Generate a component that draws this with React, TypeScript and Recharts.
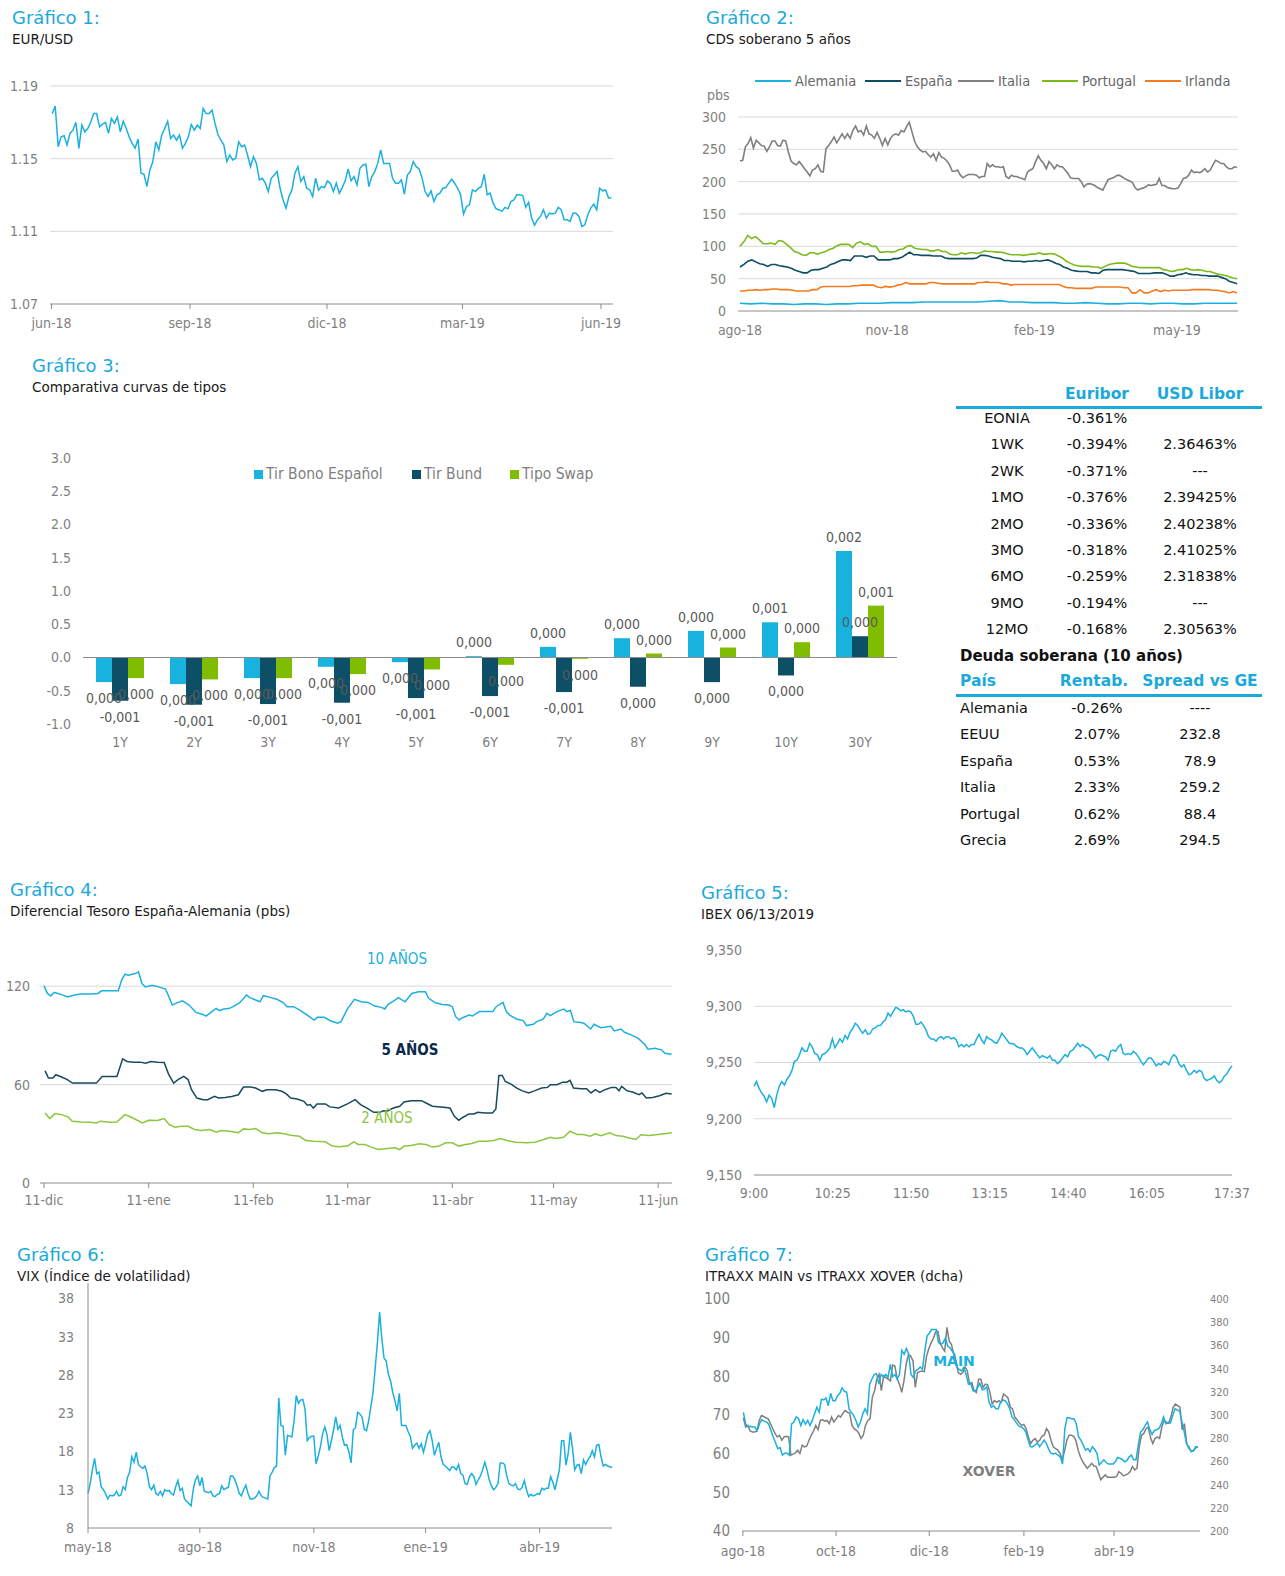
import React from "react";
import { LineChart, Line, BarChart, Bar, XAxis, YAxis, ReferenceLine, LabelList } from "recharts";

// ---------- data ----------
const eurUsd = [1.1748,1.179,1.1566,1.162,1.1626,1.1575,1.164,1.1657,1.17,1.1557,1.1685,1.1648,1.1666,1.17,1.1748,1.1748,1.1675,1.169,1.17,1.1639,1.1721,1.1694,1.173,1.1648,1.1706,1.1666,1.162,1.1584,1.1557,1.1608,1.142,1.1414,1.1347,1.1438,1.1484,1.1593,1.1548,1.163,1.1666,1.1706,1.1611,1.163,1.1602,1.163,1.1557,1.1584,1.162,1.1688,1.1657,1.1685,1.1666,1.1776,1.1748,1.1748,1.1767,1.1694,1.1633,1.1602,1.1575,1.1484,1.152,1.1493,1.1502,1.1593,1.1566,1.1575,1.152,1.1456,1.1511,1.1474,1.1383,1.1392,1.1365,1.1319,1.1392,1.141,1.1429,1.1337,1.1273,1.1228,1.1292,1.1328,1.142,1.1456,1.1374,1.1401,1.1337,1.1328,1.1292,1.1392,1.1328,1.1346,1.1341,1.1378,1.1365,1.1319,1.1365,1.131,1.1341,1.1378,1.1443,1.1378,1.1401,1.1356,1.1447,1.1465,1.1469,1.1346,1.1401,1.1429,1.1474,1.1548,1.1474,1.1474,1.1474,1.1392,1.1365,1.1365,1.1383,1.1305,1.141,1.1429,1.1484,1.1456,1.1443,1.1392,1.1319,1.1292,1.1323,1.1264,1.1301,1.131,1.1337,1.1341,1.1365,1.1387,1.1365,1.1337,1.1301,1.1195,1.1237,1.1246,1.1328,1.1319,1.1337,1.1346,1.1414,1.1301,1.131,1.1255,1.1224,1.1219,1.121,1.1232,1.1224,1.1264,1.1273,1.1301,1.1301,1.1297,1.1232,1.126,1.1173,1.1133,1.1164,1.1182,1.1219,1.1173,1.12,1.1195,1.12,1.1232,1.1219,1.1164,1.1164,1.1155,1.12,1.12,1.1182,1.1127,1.1136,1.1191,1.1228,1.125,1.1219,1.1337,1.1323,1.1328,1.1283,1.1283];
const eurTicks = [0, 92, 183, 273, 365];
const eurTickLabels = ["jun-18", "sep-18", "dic-18", "mar-19", "jun-19"];

const cdsItalia = [232,233,254,259,268,252,264,260,256,255,247,254,263,263,256,255,264,263,246,232,228,226,231,226,220,215,209,218,220,226,216,215,251,256,262,269,260,267,274,267,274,267,279,286,277,279,272,286,274,272,267,276,267,256,267,257,267,272,274,272,279,277,285,292,277,262,254,249,246,247,242,238,243,233,245,238,236,232,226,216,216,218,210,206,209,211,211,211,210,206,208,208,228,223,226,223,223,222,223,208,205,210,208,208,206,205,203,215,218,220,231,240,233,228,220,231,226,220,226,223,223,218,213,206,205,205,205,200,192,196,197,196,194,191,189,187,195,203,205,206,209,210,208,205,203,201,199,191,187,189,190,192,195,194,195,196,205,194,194,191,190,189,189,190,197,205,206,210,218,214,215,214,216,220,215,218,226,233,231,228,228,223,220,220,223,222];
const cdsPortugal = [100,107,117,112,115,110,104,104,105,103,109,108,103,98,92,90,87,86,90,90,88,90,92,95,97,101,103,103,103,98,105,107,103,104,100,100,91,91,92,91,92,95,96,100,101,97,96,95,95,93,93,95,92,92,88,87,87,90,88,90,90,89,90,93,92,92,91,91,90,88,87,87,87,86,87,88,88,90,88,88,89,88,85,82,77,74,71,70,69,69,69,68,68,66,69,72,73,74,74,74,72,69,68,67,67,67,67,67,67,64,63,61,62,64,64,66,64,63,64,63,61,61,59,57,56,55,53,51,50];
const cdsEspana = [68,72,77,79,76,73,72,69,72,72,70,69,68,66,63,61,59,59,63,64,64,66,68,72,74,77,79,79,78,85,85,85,83,85,85,79,79,79,79,81,81,83,87,91,87,87,86,86,86,85,85,85,82,81,81,81,81,81,81,81,82,86,86,85,83,82,81,78,78,77,77,77,76,77,77,78,77,78,79,77,74,72,68,66,63,62,61,61,61,59,59,58,63,64,64,64,64,64,63,62,61,58,58,58,58,59,59,59,57,54,54,56,57,59,57,56,56,55,55,54,54,54,52,50,46,44,42];
const cdsIrlanda = [31,31,32,32,33,32,33,33,34,34,33,33,33,32,31,31,31,31,33,33,37,38,38,38,38,38,38,38,39,39,40,40,40,40,37,36,38,37,38,40,41,44,42,42,42,42,42,44,44,43,42,42,42,42,42,42,42,42,42,44,44,45,44,44,44,42,42,40,41,41,41,41,41,41,41,41,41,41,41,41,38,36,36,35,35,35,35,35,37,37,37,37,37,37,37,36,36,28,28,33,28,28,31,33,30,32,31,32,32,32,32,32,33,33,33,33,33,32,32,31,30,28,30,28];
const cdsAlemania = [12,11,12,11,11,10,11,11,10,11,11,12,12,12,13,13,13,14,14,14,14,14,14,15,16,14,14,13,13,13,12,12,13,12,11,11,12,12,11,12,12,11,11,12,12,12,12];
const cdsTicks = [0, 92, 184, 273];
const cdsTickLabels = ["ago-18", "nov-18", "feb-19", "may-19"];

const tenors = ["1Y","2Y","3Y","4Y","5Y","6Y","7Y","8Y","9Y","10Y","30Y"];
const tirEspanol = [-0.37,-0.40,-0.31,-0.14,-0.07,0.02,0.16,0.29,0.40,0.53,1.60];
const tirBund = [-0.65,-0.71,-0.70,-0.68,-0.61,-0.58,-0.52,-0.44,-0.37,-0.27,0.32];
const tipoSwap = [-0.31,-0.33,-0.31,-0.25,-0.18,-0.11,-0.02,0.06,0.15,0.23,0.78];

const rateTenors = ["EONIA","1WK","2WK","1MO","2MO","3MO","6MO","9MO","12MO"];
const euribor = ["-0.361%","-0.394%","-0.371%","-0.376%","-0.336%","-0.318%","-0.259%","-0.194%","-0.168%"];
const usdLibor = ["","2.36463%","---","2.39425%","2.40238%","2.41025%","2.31838%","---","2.30563%"];
const countries = ["Alemania","EEUU","España","Italia","Portugal","Grecia"];
const yields10 = ["-0.26%","2.07%","0.53%","2.33%","0.62%","2.69%"];
const spreadsGE = ["----","232.8","78.9","259.2","88.4","294.5"];

const d10Days = [0,1,2,3,5,7,9,11,14,16,17,20,22,23,24,25,27,28,29,30,32,34,36,37,38,39,41,43,45,47,48,51,52,53,55,56,58,60,61,64,65,67,69,71,72,74,76,78,80,81,83,85,87,88,90,92,94,96,98,100,101,102,104,105,107,109,111,113,114,116,118,120,121,122,123,124,126,127,129,131,133,134,136,137,138,140,142,143,145,146,148,149,150,152,154,155,156,157,159,160,162,163,165,166,168,169,171,172,174,176,178,179,181,183,184,186];
const d10Vals = [120.2,115.6,114,116.2,115,113.4,114.6,115.2,115.2,115.6,117.2,117.2,117.2,123.7,127.3,126.7,127.7,128.7,121.7,119.6,120.6,119.6,118.2,113.6,108.5,109.5,111.1,108.5,104,102.8,101.8,106.5,105.1,105.9,106.5,107.5,109.9,114.6,113,110.5,114.2,113.2,112,109.9,107.5,107.5,105.1,102.4,99.4,101,101,98.8,97.4,98.4,106.5,112,110.5,110.1,107.9,107.1,106.1,108.9,111.5,113,110.5,115.6,116.6,116.6,112.6,109.9,108.9,108.5,107.5,101.4,99.4,100.8,102.4,101.8,104.5,104.5,104.5,107.5,110.1,104.5,102.4,100,99,96,96.8,98.4,100,103.4,102,104.5,106.1,104.5,105.3,98.4,97.8,97.4,93.9,96.8,94.7,94.9,95.5,92.7,93.9,91.9,90.3,88.3,84.6,81.6,82.2,81.2,79.1,78.5];
const d5Days = [0.3,1.3,2.6,3.5,5.2,6.9,8.4,11,13.6,15.5,17.2,19.4,21.6,23.3,24.6,26.5,28.5,30.1,31.7,33.6,35.6,36.9,38.4,39.7,41.4,42.7,43.7,45.3,47.2,48.5,50.5,51.7,53.7,55.6,57.6,59.1,61.2,62.7,64.7,66,68.6,70.5,71.8,73.1,75,77,78,78.9,79.8,80.9,83.4,84.7,87.3,89.9,92.2,93.8,95.7,97.7,99.6,100.5,101.6,103.5,105.4,106.7,108.7,111.9,113.2,115.1,118.4,120.3,121.6,122.9,124.2,125.9,127.4,128.5,130.7,132.9,133.9,134.8,135.8,136.7,138.4,140.1,141.6,143.6,145.5,147.5,149.2,150.1,152,153.7,154.9,155.9,156.9,159.1,160.8,162.1,163.4,164.7,166.2,168.2,169.5,170.4,171.2,172.7,174.6,176.3,177.2,178.5,180.4,182.4,184.3,186];
const d5Vals = [68.4,64,64,66,64.6,63,60.9,60.9,60.9,60.9,65,65,65,75.7,74.1,73.7,73.7,73.1,74.1,73.7,73.5,66.4,60.9,63,65,63,56.9,51.8,50.8,50.8,52.8,51.8,52.2,52.8,53.8,58.5,58.5,57.9,55.9,56.9,56.9,55.9,54.3,51.8,51.2,49.8,47.4,47.8,45.7,48.2,48.2,46.4,45.7,48.2,50.8,47.8,45.7,43.1,43.1,44.1,43.7,45.7,46.8,49.4,50.2,50.2,48.8,46.8,46.2,45.7,40.7,38.3,40.1,42.1,42.1,43.1,42.7,42.7,45.1,65.6,65.6,61.9,60.3,57.9,56.3,54.9,56.3,57.9,58.3,59.9,59.9,61.5,61.5,62.6,57.9,57.5,57.5,54.9,56.9,55.3,56.9,58.3,58.3,56.3,58.9,56.3,55.3,53.8,54.9,51.8,52.2,53.2,54.7,54.3];
const d2Days = [0.3,1.7,3.2,5.2,7.1,8.4,11,13.6,15.5,16.8,19.4,21.6,23.9,25.2,27.2,29.1,31,33.6,35.6,37.1,38.8,40.7,42.7,44.6,46.6,49.1,51.1,52.4,55,57.6,59.1,60.8,62.7,64.7,66.6,69.2,71.1,73.1,75.7,77.6,79.8,83.4,85.4,87.3,89.9,91.8,93.1,95.1,97,99,101.6,104.1,105.4,106.7,108.7,111.2,113.2,115.1,117.1,119,121,122.9,124.9,126.8,128.8,131.3,133.3,135.2,137.2,139.7,143,145.5,148.1,150.1,151.4,154,155.9,157.9,159.8,161.8,163.4,165,167.6,169.5,171.5,173.4,175.4,176.9,179.3,181.9,184.5,186];
const d2Vals = [42.7,39.3,42.3,41.7,40.3,37.7,37.2,37,36.6,37.7,37,37.2,41.7,40.7,38.7,36.6,38.3,38.1,39.3,35.6,34,34.6,34.6,32.6,32,32.6,31,32,31.6,30.6,33,32.6,33.2,30.6,30,30.6,30,29.1,28.5,25.9,25.5,25.1,22.5,22.1,22.5,25.1,23.5,23.5,21.9,20.4,21.1,21.5,20.4,22.5,22.9,23.9,23.5,21.9,22.5,24.5,24.5,22.5,23.5,24.1,25.5,25.5,25.9,27.1,25.9,24.9,24.5,24.9,26.5,27.9,27.1,27.9,31.6,29.6,29.6,28.5,30,28.9,30.6,28.9,28.5,27.5,26.5,29.4,28.9,29.6,30.2,30.6];
const difTicks = [0, 31, 62, 90, 121, 151, 182];
const difTickLabels = ["11-dic","11-ene","11-feb","11-mar","11-abr","11-may","11-jun"];

const ibex = [9229,9233,9227,9223,9220,9215,9221,9218,9210,9221,9229,9233,9230,9235,9238,9243,9251,9252,9257,9263,9260,9260,9267,9264,9258,9257,9252,9257,9258,9260,9263,9271,9263,9267,9271,9268,9274,9271,9277,9280,9285,9283,9279,9276,9279,9275,9276,9280,9281,9283,9283,9286,9288,9294,9291,9295,9299,9298,9296,9297,9295,9296,9295,9291,9284,9284,9286,9283,9279,9273,9271,9271,9269,9272,9273,9271,9273,9273,9271,9272,9270,9264,9266,9264,9266,9264,9266,9266,9271,9275,9270,9267,9273,9271,9270,9268,9267,9271,9276,9273,9270,9267,9267,9266,9264,9263,9263,9261,9257,9260,9263,9260,9257,9254,9256,9255,9254,9256,9252,9252,9249,9251,9254,9257,9255,9260,9261,9264,9267,9264,9266,9264,9263,9261,9258,9254,9256,9257,9256,9255,9252,9260,9261,9260,9264,9266,9258,9257,9258,9257,9260,9258,9255,9251,9248,9251,9254,9254,9251,9247,9249,9248,9251,9250,9248,9254,9257,9255,9249,9246,9248,9243,9239,9240,9243,9241,9243,9242,9236,9234,9235,9236,9238,9234,9232,9234,9238,9240,9244,9247];
const ibexTicks = [0, 85, 170, 255, 340, 425, 517];
const ibexTickLabels = ["9:00","10:25","11:50","13:15","14:40","16:05","17:37"];

const vix = [12.5,13.8,15.6,17.1,15.1,15.3,13.4,13,12.5,11.8,12.3,12.2,12.3,12.8,12.2,12.3,13.4,13,14.6,15.3,17.3,16.6,17.9,16.3,16,15.8,16.1,15.1,13.4,13,13.6,12.5,12.3,12.8,12.2,13,12.8,12.9,12.5,12.3,13.4,14.2,12.9,13.2,11.8,11.5,11.2,10.9,13,14.3,14.8,13.5,14.6,12.8,12.7,12.6,12.8,12.2,12.1,12.4,12.5,13.5,13,13.2,13.3,14.8,14.8,14.3,13.5,12.5,12.2,13,13.6,12.5,11.8,11.8,11.9,12.2,12.8,12.2,12,11.9,11.8,14.8,15.3,15.9,16.1,25,21.4,21.3,17.5,20.1,20,19.9,22,25.3,24.3,24.7,24.8,23.5,19.4,19.8,20,20,16.4,17.4,18.6,20.3,21.2,20.2,18.1,19.4,20.8,22.5,20.9,21.4,19.9,18.8,18.9,17.9,16.5,20.8,21.1,23.1,22.9,22.5,20.9,20.7,22,23.8,25.7,28.9,32.2,36.2,32.8,30.2,29.8,28.1,27.2,25.7,24.6,23.3,25.6,21.4,21.4,21.4,20.6,20,18.4,18.8,19.1,18.4,19,17.9,19,20.3,20.7,19.4,17.5,18.4,19.2,17.3,16.3,16.1,15.8,15.5,16,15.9,15.6,16.3,15.1,14.9,13.8,13.7,14.7,15.1,14.7,13.7,14.3,14.8,15.6,16.6,15.6,14.3,13.5,13,13.3,13.8,16.5,16.5,16.3,14.8,13.8,13.6,13.5,13.8,13.1,13,13.3,14.2,13,12.1,12.4,12.2,12.3,12.5,12.4,13.2,13,13.2,13.2,14.7,14,13,14.3,15.6,19.4,19.4,16.2,17.7,20.5,18.4,15.6,16.2,16.3,15.1,16.9,16.3,16.9,17.3,18.1,17.3,18.8,18.9,17.3,16.1,16.3,16.1,16,15.9];
const vixTicks = [0, 51, 103, 154, 206];
const vixTickLabels = ["may-18","ago-18","nov-18","ene-19","abr-19"];

const itraxxMain = [70.7,67.7,66.9,67.1,66.9,66.9,66,67.7,68.8,68.4,68.2,67.7,66,64.3,62.8,61.3,61.6,59.6,60.1,60.1,59.6,67.7,68.2,69.5,69.1,67.3,68.8,67.6,68.6,67.3,68.6,70.3,72,70.7,74.1,73.9,74.4,72.4,75.6,73.7,73.7,75,75.6,77,76.1,75.9,71.6,70.7,69.9,68.6,66.9,68.2,70.3,71.6,70.3,78,79.3,80.5,80.7,78,80.5,79.9,80.5,79.7,83.1,79.9,80.5,79.3,80.5,86.7,85.7,87.2,85.8,80.5,79.7,81.4,81.8,82.4,81.8,86.5,90.4,91.2,92.1,92.1,92.1,88.7,88.2,88.7,89.9,87.8,87.4,86.5,85.7,82.3,81.8,81.4,82.3,80.5,78,78.2,76.3,76.1,77.1,78.2,76.5,76.7,77.3,73.3,72,72.4,71.6,71.6,73.3,73.9,73.7,72.9,71.6,69.5,68.8,67.9,67.1,66.9,66.5,65.6,63.5,61.8,61.8,62.2,62.8,61.8,62.6,63.5,62.6,61.1,60.1,59.9,60.1,59.6,59.2,57.3,66.5,69.3,69.3,69,69,67.7,64.3,63.5,62.2,60.9,61.3,60.5,61.8,61.1,60.1,57.1,57.7,58.4,57.7,57.3,57.3,57.3,57.9,59,58.8,58.5,57.9,58.2,59.2,59.6,58.4,58.4,62.2,65.6,66.2,67.3,68.2,66.2,65,66,66.2,66.5,67.7,69.5,67.7,67.9,67.9,69.9,71.6,71.3,71,68.2,65.6,62.6,61.8,60.5,60.8,61.8,61.6];
const itraxxXover = [297.6,289.6,291,286.2,285.4,285.4,286.2,295.3,299.6,298.7,297.6,296.7,292.5,288.2,284.1,281.1,282.5,278.2,281.1,281.7,281.1,265.4,266.3,267.4,269.7,266.9,274,272.5,273.1,278.2,282.5,286.2,291,287.3,295.3,295.9,294.7,295.3,292.5,298.2,293.9,296.7,299.6,298.2,301.6,303.8,302.4,301.6,291,288.2,286.8,284.5,279.7,282.5,291,295.3,296.7,315.2,320.9,330.9,335.1,320.9,333.7,332.3,330.9,329.4,343.1,342.2,330.9,326.6,319.5,329.4,344.2,352.2,350.8,346.5,323.8,336.6,337.4,338,337.4,350.8,357.3,362.2,365.9,371.6,372.1,362.2,357.9,355,375.5,363.6,360.7,352.2,346.5,336.6,335.1,336.6,341.4,338,326.6,328,320.9,319.5,330.9,330.9,323.8,326.6,326,319.5,309.5,312.4,311,312.4,311,318.1,316.6,314.7,306.7,305.3,298.2,295.9,293,291,291.9,288.2,281.1,275.4,278.2,279.7,276.8,278.2,281.7,282.5,288.2,285.4,278.2,272.5,271.1,269.7,266.9,261.2,269.1,278.2,282.5,282.5,281.7,278.2,269.7,264,259.7,256.9,254,256,258.3,256,255.5,249.8,244.1,246.4,248.4,246.4,246.4,246.4,246.4,247,251.2,249.8,247.5,248.4,249.2,251.2,255.5,252.6,254,272.5,282.5,283.9,288.2,289.6,280.5,275.4,279.7,281.1,279.7,289.6,295.3,293.9,293,298.2,306.7,309.5,308.1,306.7,287.3,292.5,275.4,271.1,269.1,269.1,272,272.5];
const itraxxTicks = [0, 61, 122, 184, 243];
const itraxxTickLabels = ["ago-18","oct-18","dic-18","feb-19","abr-19"];

// ---------- styles ----------
const SANS = '"DejaVu Sans", Verdana, sans-serif';
const NARROW = '"Liberation Sans Narrow", "DejaVu Sans Condensed", "Arial Narrow", sans-serif';
const CYAN = "#1BB0DE";
const TITLE = "#1BA9DA";
const NAVY = "#0E4D64";
const GREEN = "#7DBA1E";
const GREY_LINE = "#7F7F7F";
const ORANGE = "#F47A20";
const GRID = "#D9D9D9";
const AXIS = "#8C8C8C";
const AX = { fontFamily: NARROW, fontSize: 14, fill: "#7F7F7F" };

const spread = (vals: number[], x0: number, x1: number) =>
  vals.map((y, i) => ({ x: x0 + (i * (x1 - x0)) / (vals.length - 1), y }));
const zipXY = (xs: number[], ys: number[]) => ys.map((y, i) => ({ x: xs[i], y }));
const labeler = (ticks: number[], labels: string[]) => (v: number) => labels[ticks.indexOf(v)] ?? "";

function Title({ x, y, title, sub }: { x: number; y: number; title: string; sub: string }) {
  return (
    <>
      <div style={{ position: "absolute", left: x, top: y, fontFamily: SANS, fontSize: 18, color: TITLE, lineHeight: "20px", whiteSpace: "nowrap" }}>{title}</div>
      <div style={{ position: "absolute", left: x, top: y + 23, fontFamily: SANS, fontSize: 13.5, color: "#1A1A1A", lineHeight: "16px", whiteSpace: "nowrap" }}>{sub}</div>
    </>
  );
}

function Txt({ x, y, anchor = "middle", style, children }: any) {
  const tx = anchor === "middle" ? "-50%" : anchor === "end" ? "-100%" : "0";
  return (
    <div style={{ position: "absolute", left: x, top: y, transform: `translate(${tx}, -50%)`, whiteSpace: "nowrap", lineHeight: 1, ...style }}>
      {children}
    </div>
  );
}

// ---------- charts ----------
function EurUsdChart() {
  return (
    <div style={{ position: "absolute", left: 0, top: 70 }}>
      <LineChart width={630} height={270} data={spread(eurUsd, 0.5, 372)} margin={{ top: 16, right: 17, bottom: 6, left: 0 }}>
        {[1.11, 1.15, 1.19].map((v) => <ReferenceLine key={v} y={v} stroke={GRID} />)}
        <XAxis dataKey="x" type="number" domain={[-1, 373]} ticks={eurTicks} tickFormatter={labeler(eurTicks, eurTickLabels)} tick={AX} stroke={AXIS} tickSize={5} tickMargin={9} height={30} />
        <YAxis domain={[1.07, 1.19]} ticks={[1.07, 1.11, 1.15, 1.19]} tickFormatter={(v) => v.toFixed(2)} axisLine={false} tickLine={false} width={50} tickMargin={6} tick={AX} />
        <Line dataKey="y" stroke={CYAN} strokeWidth={1.5} dot={false} isAnimationActive={false} />
      </LineChart>
    </div>
  );
}

const cdsSeries = [
  { name: "Alemania", color: CYAN, vals: cdsAlemania, left: 755 },
  { name: "España", color: NAVY, vals: cdsEspana, left: 865 },
  { name: "Italia", color: GREY_LINE, vals: cdsItalia, left: 958 },
  { name: "Portugal", color: GREEN, vals: cdsPortugal, left: 1042 },
  { name: "Irlanda", color: ORANGE, vals: cdsIrlanda, left: 1145 },
];

function CdsChart() {
  return (
    <>
      {cdsSeries.map((s) => (
        <div key={s.name} style={{ position: "absolute", left: s.left, top: 73, height: 16, display: "flex", alignItems: "center", fontFamily: NARROW, fontSize: 14.5, color: "#666" }}>
          <span style={{ display: "inline-block", width: 36, height: 2, background: s.color, marginRight: 4 }} />
          {s.name}
        </div>
      ))}
      <Txt x={707} y={95} anchor="start" style={{ fontFamily: NARROW, fontSize: 14, color: "#7F7F7F" }}>pbs</Txt>
      <div style={{ position: "absolute", left: 680, top: 100 }}>
        <LineChart width={570} height={245} margin={{ top: 17, right: 12, bottom: 4, left: 0 }}>
          {[50, 100, 150, 200, 250, 300].map((v) => <ReferenceLine key={v} y={v} stroke={GRID} />)}
          <XAxis dataKey="x" type="number" domain={[-1.25, 311.25]} ticks={cdsTicks} tickFormatter={labeler(cdsTicks, cdsTickLabels)} tick={AX} stroke={AXIS} tickLine={false} tickMargin={8} height={30} />
          <YAxis domain={[0, 300]} ticks={[0, 50, 100, 150, 200, 250, 300]} axisLine={false} tickLine={false} width={58} tickMargin={6} tick={AX} />
          {[2, 3, 1, 4, 0].map((k) => (
            <Line key={cdsSeries[k].name} data={spread(cdsSeries[k].vals, 0, 310.7)} dataKey="y" stroke={cdsSeries[k].color} strokeWidth={1.6} dot={false} isAnimationActive={false} />
          ))}
        </LineChart>
      </div>
    </>
  );
}

const fmtBar = (v: number) => {
  const s = (v / 1000).toFixed(3).replace(".", ",");
  return s === "-0,000" ? "0,000" : s;
};

function BarValueLabel(props: any) {
  const vb = props.viewBox ?? props;
  const { x, y, width, height } = vb;
  const v = Number(props.value);
  const top = Math.min(y, y + height);
  const bottom = Math.max(y, y + height);
  const ty = v >= 0 ? top - 9 : bottom + 21;
  return (
    <text x={x + width / 2} y={ty} textAnchor="middle" fontFamily={NARROW} fontSize={14} fill="#595959">
      {fmtBar(v)}
    </text>
  );
}

const barSeries = [
  { key: "esp", name: "Tir Bono Español", color: "#17B2DE", left: 254 },
  { key: "bund", name: "Tir Bund", color: "#0D4F66", left: 412 },
  { key: "swap", name: "Tipo Swap", color: "#80BC00", left: 510 },
];

function CurvasChart() {
  const data = tenors.map((t, i) => ({ t, esp: tirEspanol[i], bund: tirBund[i], swap: tipoSwap[i] }));
  return (
    <>
      {barSeries.map((s) => (
        <div key={s.key} style={{ position: "absolute", left: s.left, top: 466, height: 16, display: "flex", alignItems: "center", fontFamily: NARROW, fontSize: 15.5, color: "#7F7F7F" }}>
          <span style={{ display: "inline-block", width: 9, height: 9, background: s.color, marginRight: 3 }} />
          {s.name}
        </div>
      ))}
      <div style={{ position: "absolute", left: 20, top: 440 }}>
        <BarChart width={890} height={320} data={data} margin={{ top: 18, right: 13, bottom: 6, left: 0 }} barGap={0} barSize={16}>
          <XAxis dataKey="t" axisLine={false} tickLine={false} tick={AX} tickMargin={7} height={30} />
          <YAxis domain={[-1, 3]} ticks={[-1, -0.5, 0, 0.5, 1, 1.5, 2, 2.5, 3]} tickFormatter={(v) => v.toFixed(1)} axisLine={false} tickLine={false} width={63} tickMargin={6} tick={AX} />
          {barSeries.map((s) => (
            <Bar key={s.key} dataKey={s.key} fill={s.color} isAnimationActive={false}>
              <LabelList dataKey={s.key} content={BarValueLabel} />
            </Bar>
          ))}
          <ReferenceLine y={0} stroke={AXIS} />
        </BarChart>
      </div>
    </>
  );
}

function RatesTable() {
  const rowY = (i: number, y0: number) => y0 + i * 26.4;
  const base = { fontFamily: SANS, fontSize: 14.5, color: "#111" };
  const head = { fontFamily: SANS, fontSize: 15.5, color: TITLE, fontWeight: 600 };
  return (
    <>
      <Txt x={1097} y={395} style={head}>Euribor</Txt>
      <Txt x={1200} y={395} style={head}>USD Libor</Txt>
      <div style={{ position: "absolute", left: 956, top: 406, width: 306, height: 3, background: TITLE }} />
      {rateTenors.map((t, i) => (
        <React.Fragment key={t}>
          <Txt x={1007} y={rowY(i, 418)} style={base}>{t}</Txt>
          <Txt x={1097} y={rowY(i, 418)} style={base}>{euribor[i]}</Txt>
          <Txt x={1200} y={rowY(i, 418)} style={base}>{usdLibor[i]}</Txt>
        </React.Fragment>
      ))}
      <Txt x={960} y={656} anchor="start" style={{ ...base, fontSize: 15, fontWeight: 700 }}>Deuda soberana (10 años)</Txt>
      <Txt x={960} y={682} anchor="start" style={head}>País</Txt>
      <Txt x={1094} y={682} style={head}>Rentab.</Txt>
      <Txt x={1200} y={682} style={head}>Spread vs GE</Txt>
      <div style={{ position: "absolute", left: 956, top: 694, width: 306, height: 3, background: TITLE }} />
      {countries.map((c, i) => (
        <React.Fragment key={c}>
          <Txt x={960} y={rowY(i, 708)} anchor="start" style={base}>{c}</Txt>
          <Txt x={1097} y={rowY(i, 708)} style={base}>{yields10[i]}</Txt>
          <Txt x={1200} y={rowY(i, 708)} style={base}>{spreadsGE[i]}</Txt>
        </React.Fragment>
      ))}
    </>
  );
}

function DiferencialChart() {
  return (
    <>
      <div style={{ position: "absolute", left: 0, top: 920 }}>
        <LineChart width={690} height={298} margin={{ top: 17, right: 18, bottom: 5, left: 0 }}>
          {[60, 120].map((v) => <ReferenceLine key={v} y={v} stroke={GRID} />)}
          <XAxis dataKey="x" type="number" domain={[-1.2, 186.1]} ticks={difTicks} tickFormatter={labeler(difTicks, difTickLabels)} tick={AX} stroke={AXIS} tickSize={5} tickMargin={7} height={30} />
          <YAxis domain={[0, 150]} ticks={[0, 60, 120]} axisLine={false} tickLine={false} width={40} tickMargin={4} tick={AX} />
          <Line data={zipXY(d2Days, d2Vals)} dataKey="y" stroke="#8CC63F" strokeWidth={1.5} dot={false} isAnimationActive={false} />
          <Line data={zipXY(d5Days, d5Vals)} dataKey="y" stroke="#174A5E" strokeWidth={1.5} dot={false} isAnimationActive={false} />
          <Line data={zipXY(d10Days, d10Vals)} dataKey="y" stroke={CYAN} strokeWidth={1.5} dot={false} isAnimationActive={false} />
        </LineChart>
      </div>
      <Txt x={397} y={959} style={{ fontFamily: NARROW, fontSize: 15, color: CYAN }}>10 AÑOS</Txt>
      <Txt x={410} y={1050} style={{ fontFamily: NARROW, fontSize: 15, color: "#0B2A4A", fontWeight: 700 }}>5 AÑOS</Txt>
      <Txt x={387} y={1118} style={{ fontFamily: NARROW, fontSize: 15, color: "#8CC63F" }}>2 AÑOS</Txt>
    </>
  );
}

function IbexChart() {
  return (
    <div style={{ position: "absolute", left: 694, top: 930 }}>
      <LineChart width={575} height={280} data={spread(ibex, 0, 517)} margin={{ top: 20, right: 37, bottom: 5, left: 0 }}>
        {[9200, 9250, 9300].map((v) => <ReferenceLine key={v} y={v} stroke={GRID} />)}
        <XAxis dataKey="x" type="number" domain={[0, 517]} ticks={ibexTicks} tickFormatter={labeler(ibexTicks, ibexTickLabels)} tick={AX} stroke={AXIS} tickLine={false} tickMargin={7} height={30} />
        <YAxis domain={[9150, 9350]} ticks={[9150, 9200, 9250, 9300, 9350]} tickFormatter={(v) => v.toLocaleString("en-US")} axisLine={false} tickLine={false} width={60} tickMargin={6} tick={AX} />
        <Line dataKey="y" stroke={CYAN} strokeWidth={1.5} dot={false} isAnimationActive={false} />
      </LineChart>
    </div>
  );
}

function VixChart() {
  return (
    <div style={{ position: "absolute", left: 20, top: 1265 }}>
      <LineChart width={602} height={298} data={vix.map((y, x) => ({ x, y }))} margin={{ top: 18, right: 10, bottom: 5, left: 0 }}>
        <XAxis dataKey="x" type="number" domain={[0, 239]} ticks={vixTicks} tickFormatter={labeler(vixTicks, vixTickLabels)} tick={AX} stroke={AXIS} tickSize={5} tickMargin={9} height={30} />
        <YAxis domain={[8, 40]} ticks={[8, 13, 18, 23, 28, 33, 38]} stroke={AXIS} tickLine={false} width={68} tickMargin={8} tick={AX} />
        <Line dataKey="y" stroke={CYAN} strokeWidth={1.5} dot={false} isAnimationActive={false} />
      </LineChart>
    </div>
  );
}

function ItraxxChart() {
  return (
    <>
      <div style={{ position: "absolute", left: 680, top: 1280 }}>
        <LineChart width={565} height={286} margin={{ top: 19, right: 0, bottom: 5, left: 0 }}>
          <XAxis dataKey="x" type="number" domain={[-0.6, 299.3]} ticks={itraxxTicks} tickFormatter={labeler(itraxxTicks, itraxxTickLabels)} tick={AX} stroke={AXIS} tickSize={5} tickMargin={10} height={30} />
          <YAxis yAxisId="l" domain={[40, 100]} ticks={[40, 50, 60, 70, 80, 90, 100]} axisLine={false} tickLine={false} width={62} tickMargin={6} tick={{ ...AX, fontSize: 15 }} />
          <YAxis yAxisId="r" orientation="right" domain={[200, 400]} ticks={[200, 220, 240, 260, 280, 300, 320, 340, 360, 380, 400]} axisLine={false} tickLine={false} width={45} tickMargin={4} tick={{ ...AX, fontSize: 11 }} />
          <Line yAxisId="r" data={spread(itraxxXover, 0.3, 298)} dataKey="y" stroke={GREY_LINE} strokeWidth={1.5} dot={false} isAnimationActive={false} />
          <Line yAxisId="l" data={spread(itraxxMain, 0.3, 298)} dataKey="y" stroke={CYAN} strokeWidth={1.5} dot={false} isAnimationActive={false} />
        </LineChart>
      </div>
      <Txt x={954} y={1361} style={{ fontFamily: SANS, fontSize: 14, color: CYAN, fontWeight: 700 }}>MAIN</Txt>
      <Txt x={989} y={1471} style={{ fontFamily: SANS, fontSize: 14, color: "#7F7F7F", fontWeight: 700 }}>XOVER</Txt>
    </>
  );
}

export default function App() {
  return (
    <div style={{ position: "absolute", left: 0, top: 0, width: 1285, height: 1576, background: "#fff", overflow: "hidden" }}>
      <Title x={12} y={8} title="Gráfico 1:" sub="EUR/USD" />
      <Title x={706} y={8} title="Gráfico 2:" sub="CDS soberano 5 años" />
      <Title x={32} y={356} title="Gráfico 3:" sub="Comparativa curvas de tipos" />
      <Title x={10} y={880} title="Gráfico 4:" sub="Diferencial Tesoro España-Alemania (pbs)" />
      <Title x={701} y={883} title="Gráfico 5:" sub="IBEX  06/13/2019" />
      <Title x={17} y={1245} title="Gráfico 6:" sub="VIX (Índice de volatilidad)" />
      <Title x={705} y={1245} title="Gráfico 7:" sub="ITRAXX MAIN vs ITRAXX XOVER (dcha)" />
      <EurUsdChart />
      <CdsChart />
      <CurvasChart />
      <RatesTable />
      <DiferencialChart />
      <IbexChart />
      <VixChart />
      <ItraxxChart />
    </div>
  );
}
